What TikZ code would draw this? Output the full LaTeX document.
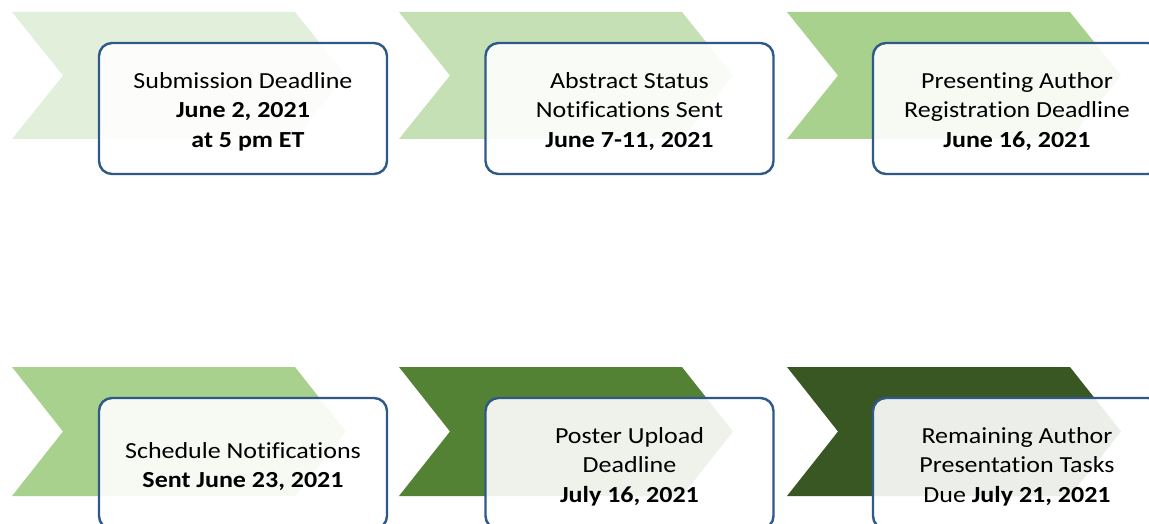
\documentclass[tikz,border=0pt]{standalone}
\usepackage{fontspec}
\setmainfont{Carlito}[FakeStretch=1.13,Ligatures={NoCommon}]
\definecolor{chA}{HTML}{E2EFDA}
\definecolor{chB}{HTML}{C5E0B4}
\definecolor{chC}{HTML}{A9D18E}
\definecolor{chD}{HTML}{548235}
\definecolor{chE}{HTML}{385723}
\definecolor{boxline}{RGB}{46,89,136}
\newcommand{\toplift}{\rule{0pt}{22pt}}
\tikzset{
  chev/.style={draw=none},
  datebox/.style={draw=boxline, line width=2.4pt, rounded corners=13pt,
    fill=white, fill opacity=0.9, text opacity=1,
    minimum width=288pt, minimum height=131pt, align=center,
    font=\fontsize{23}{29.5}\selectfont, inner sep=0pt}
}
\begin{document}
\begin{tikzpicture}[x=1pt,y=-1pt]
\useasboundingbox (0,0) rectangle (1149,524);
\clip (0,0) rectangle (1149,524);
% top row
\fill[chev,chA] (12,12) -- (295,12) -- (346,75.5) -- (295,139) -- (12,139) -- (63,75.5) -- cycle;
\node[datebox] (b1) at (243,108.5) {\toplift Submission Deadline\\\textbf{June 2, 2021}\\\textbf{\hspace*{10pt}at 5 pm ET}};
\fill[chev,chB] (399,12) -- (682,12) -- (733,75.5) -- (682,139) -- (399,139) -- (450,75.5) -- cycle;
\node[datebox] (b2) at (629.5,108.5) {\toplift Abstract Status\\Notifications Sent\\\textbf{June 7-11, 2021}};
\fill[chev,chC] (787,12) -- (1070,12) -- (1121,75.5) -- (1070,139) -- (787,139) -- (838,75.5) -- cycle;
\node[datebox] (b3) at (1017,108.5) {\toplift Presenting Author\\Registration Deadline\\\textbf{June 16, 2021}};
% bottom row
\fill[chev,chC] (12,367) -- (295,367) -- (346,431.5) -- (295,496) -- (12,496) -- (63,431.5) -- cycle;
\node[datebox] (b4) at (243,463.5) {\toplift Schedule Notifications\\\textbf{Sent June 23, 2021}};
\fill[chev,chD] (399,367) -- (682,367) -- (733,431.5) -- (682,496) -- (399,496) -- (450,431.5) -- cycle;
\node[datebox] (b5) at (629.5,463.5) {\toplift Poster Upload\\Deadline\\\textbf{July 16, 2021}};
\fill[chev,chE] (787,367) -- (1070,367) -- (1121,431.5) -- (1070,496) -- (787,496) -- (838,431.5) -- cycle;
\node[datebox] (b6) at (1017,463.5) {\toplift Remaining Author\\Presentation Tasks\\Due \textbf{July 21, 2021}};
\end{tikzpicture}
\end{document}
